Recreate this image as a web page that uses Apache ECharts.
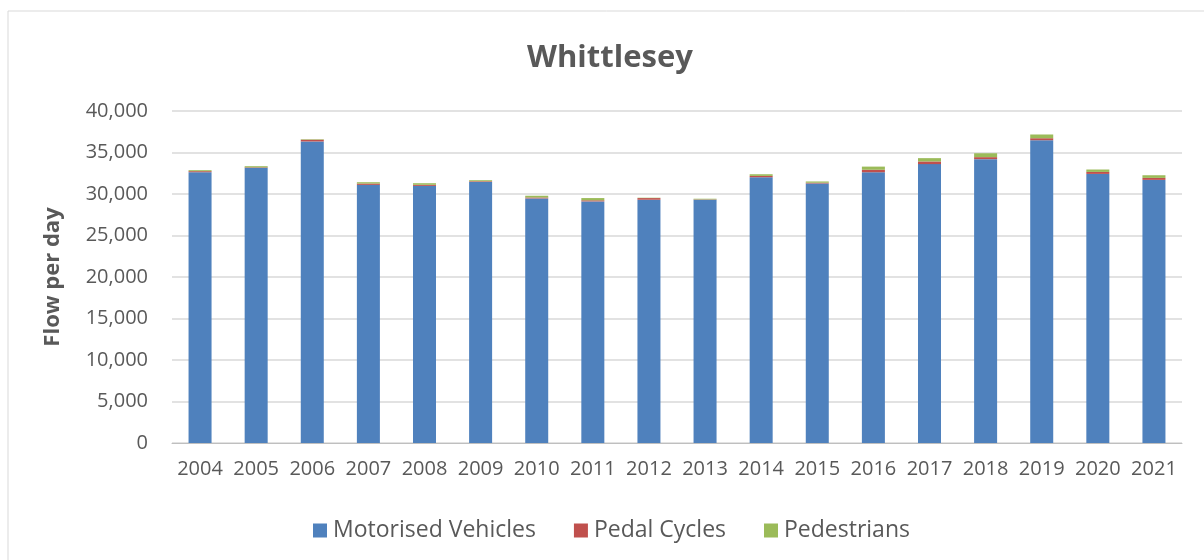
<!DOCTYPE html>
<html><head><meta charset="utf-8">
<script src="https://cdn.jsdelivr.net/npm/echarts@6/dist/echarts.min.js"></script>
<style>html,body{margin:0;padding:0;background:#fff}#c{width:1204px;height:560px}</style>
</head><body><div id="c"></div>
<script>
const years = ['2004','2005','2006','2007','2008','2009','2010','2011','2012','2013','2014','2015','2016','2017','2018','2019','2020','2021'];
const motorised = [32630,33150,36330,31100,30980,31460,29470,29110,29310,29310,32020,31270,32620,33600,34200,36480,32420,31700];
const pedal =     [120,60,210,160,130,80,110,130,200,40,160,90,300,320,240,240,240,240];
const pedestrians=[120,140,60,160,190,120,210,270,40,80,200,150,380,400,470,450,290,320];
const yTicks = [0,5000,10000,15000,20000,25000,30000,35000,40000];

const font = "'Open Sans', 'Liberation Sans', sans-serif";
const txt = '#595959';
const chart = echarts.init(document.getElementById('c'));
function mk(name, data, color){
  return {name, type:'bar', stack:'t', data, barWidth:'41%', itemStyle:{color}};
}
chart.setOption({
  animation:false,
  graphic:[{type:'rect', shape:{x:8,y:11,width:1200,height:560}, style:{fill:'none', stroke:'#d9d9d9', lineWidth:1}}],
  title:{text:'Whittlesey', left:522, top:38, textStyle:{fontFamily:font, fontSize:31, fontWeight:'bold', color:txt}},
  grid:{left:172, right:22, top:111, bottom:117},
  legend:{bottom:13, left:308, itemWidth:14, itemHeight:14, itemGap:38, icon:'rect',
    textStyle:{fontFamily:font, fontSize:23, color:txt, padding:[0,0,0,1]}},
  xAxis:{type:'category', data:years,
    axisLine:{lineStyle:{color:'#bfbfbf'}}, axisTick:{show:false},
    axisLabel:{fontFamily:font, fontSize:20, color:txt, margin:16, interval:0}},
  yAxis:{type:'value', min:0, max:40000, interval:5000,
    name:'Flow per day', nameLocation:'middle', nameGap:108,
    nameTextStyle:{fontFamily:font, fontSize:22, fontWeight:'bold', color:txt},
    axisLabel:{fontFamily:font, fontSize:20, color:txt, margin:24,
      formatter:v=>v.toLocaleString('en-US')},
    splitLine:{lineStyle:{color:'#d9d9d9', width:1.5}}},
  series:[mk('Motorised Vehicles', motorised, '#4f81bd'), mk('Pedal Cycles', pedal, '#c0504d'), mk('Pedestrians', pedestrians, '#9bbb59')]
});
</script></body></html>
